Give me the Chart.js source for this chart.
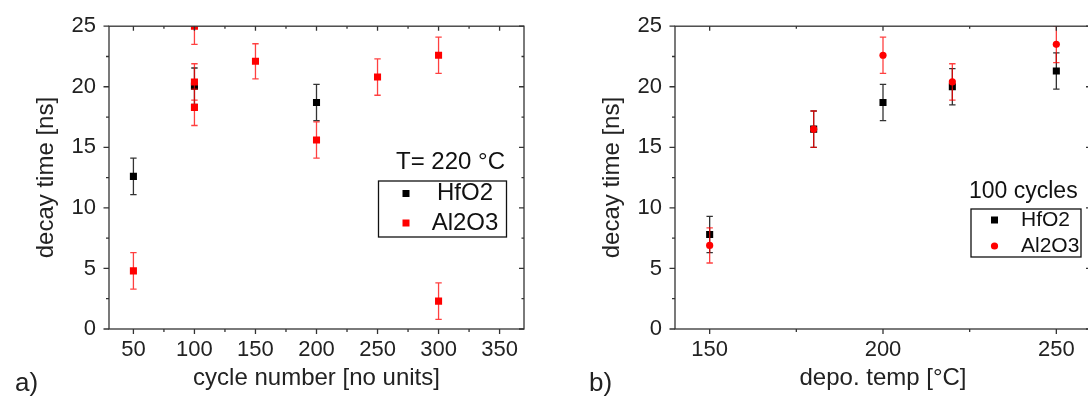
<!DOCTYPE html>
<html>
<head>
<meta charset="utf-8">
<script src="https://cdn.jsdelivr.net/npm/chart.js@4.4.1/dist/chart.umd.min.js"></script>
<style>
  html, body { margin: 0; padding: 0; background: #fff; overflow: hidden; }
  body { width: 1088px; height: 399px; position: relative; font-family: 'Liberation Sans', Arial, sans-serif; }
  .panel { position: absolute; top: 0; height: 399px; }
  #panel-a { left: 0; width: 544px; }
  #panel-b { left: 544px; width: 560px; }
  .tag { position: absolute; font-size: 26px; color: #222; line-height: 30px; }
</style>
</head>
<body>
<div class="panel" id="panel-a"><canvas id="chart-a" width="544" height="399"></canvas></div>
<div class="panel" id="panel-b"><canvas id="chart-b" width="560" height="399"></canvas></div>
<div class="tag" style="left:15px; top:367px">a)</div>
<div class="tag" style="left:589px; top:367px">b)</div>
<script>
// a) decay time vs cycle number, T = 220 °C
const cyclesHfO2 = [50, 100, 200];
const decayHfO2A = [12.6, 20.05, 18.7];
const errHfO2A = [1.5, 1.5, 1.5];
const cyclesAl2O3 = [50, 100, 100, 100, 150, 200, 250, 300, 300];
const decayAl2O3A = [4.8, 25.0, 20.4, 18.3, 22.1, 15.6, 20.8, 22.6, 2.3];
const errAl2O3A = [1.5, 1.5, 1.5, 1.5, 1.45, 1.5, 1.5, 1.5, 1.5];
const cycleTicks = [50, 100, 150, 200, 250, 300, 350];

// b) decay time vs deposition temperature, 100 cycles
const tempHfO2 = [150, 180, 200, 220, 250];
const decayHfO2B = [7.8, 16.5, 18.7, 20.0, 21.3];
const errHfO2B = [1.5, 1.5, 1.5, 1.5, 1.5];
const tempAl2O3 = [150, 180, 200, 220, 250];
const decayAl2O3B = [6.9, 16.5, 22.6, 20.4, 23.5];
const errAl2O3B = [1.45, 1.5, 1.5, 1.5, 1.5];
const tempTicks = [150, 200, 250];

const decayTicks = [0, 5, 10, 15, 20, 25];

const FONT = "'Liberation Sans', Arial, sans-serif";
Chart.defaults.font.family = FONT;
Chart.defaults.color = '#222';

const pts = (xs, ys) => xs.map((x, i) => ({x: x, y: ys[i]}));

// majors plus the midpoints between them (minor ticks)
const withMinors = majors => scale => {
    const minors = majors.slice(1).map((v, i) => (v + majors[i]) / 2);
    scale.ticks = majors.concat(minors).sort((a, b) => a - b).map(v => ({value: v}));
};
const majorLabel = majors => v => majors.includes(v) ? String(v) : '';

// vertical error bars, drawn just before each dataset's markers
const errorBars = {
    id: 'errorBars',
    beforeDatasetDraw(chart, args) {
        const ds = chart.data.datasets[args.index];
        if (!ds.errors) return;
        const meta = chart.getDatasetMeta(args.index);
        const ay = chart.scales.y, a = chart.chartArea, ctx = chart.ctx;
        ctx.save();
        ctx.beginPath();
        ctx.rect(a.left, a.top, a.right - a.left, a.bottom - a.top);
        ctx.clip();
        ctx.strokeStyle = ds.errorColor;
        ctx.lineWidth = 1.3;
        ctx.beginPath();
        meta.data.forEach((pt, i) => {
            const v = ds.data[i].y, e = ds.errors[i];
            const top = ay.getPixelForValue(v + e), bot = ay.getPixelForValue(v - e);
            ctx.moveTo(pt.x, top); ctx.lineTo(pt.x, bot);
            ctx.moveTo(pt.x - 3.2, top); ctx.lineTo(pt.x + 3.2, top);
            ctx.moveTo(pt.x - 3.2, bot); ctx.lineTo(pt.x + 3.2, bot);
        });
        ctx.stroke();
        ctx.restore();
    }
};

// box frame with outward ticks left/bottom and inward ticks top/right
const frame = {
    id: 'frame',
    afterDatasetsDraw(chart) {
        const ctx = chart.ctx, a = chart.chartArea;
        const ax = chart.scales.x, ay = chart.scales.y;
        ctx.save();
        ctx.strokeStyle = '#333';
        ctx.lineWidth = 1.3;
        ctx.strokeRect(a.left, a.top, a.right - a.left, a.bottom - a.top);
        ctx.beginPath();
        ax.ticks.forEach(t => {
            const px = ax.getPixelForValue(t.value);
            const major = t.label !== '';
            ctx.moveTo(px, a.bottom); ctx.lineTo(px, a.bottom + (major ? 5 : 3));
            ctx.moveTo(px, a.top); ctx.lineTo(px, a.top + (major ? 4.5 : 2.5));
        });
        ay.ticks.forEach(t => {
            const py = ay.getPixelForValue(t.value);
            const major = t.label !== '';
            ctx.moveTo(a.left, py); ctx.lineTo(a.left - (major ? 5.5 : 3), py);
            ctx.moveTo(a.right, py); ctx.lineTo(a.right - (major ? 5 : 2.5), py);
        });
        ctx.stroke();
        ctx.restore();
    }
};

// Origin-style legend: title above a framed list of markers
const boxLegend = {
    id: 'boxLegend',
    afterDraw(chart, args, opts) {
        const ctx = chart.ctx;
        ctx.save();
        ctx.textBaseline = 'middle';
        ctx.fillStyle = '#111';
        ctx.font = opts.titleFont;
        ctx.textAlign = 'left';
        ctx.fillText(opts.title, opts.titleX, opts.titleY);
        ctx.strokeStyle = '#111';
        ctx.lineWidth = 1.3;
        ctx.strokeRect(opts.box[0], opts.box[1], opts.box[2], opts.box[3]);
        chart.data.datasets.forEach((ds, i) => {
            const y = opts.rowY[i];
            ctx.fillStyle = ds.backgroundColor;
            if (ds.pointStyle === 'circle') {
                ctx.beginPath();
                ctx.arc(opts.markerX, y, 3.6, 0, Math.PI * 2);
                ctx.fill();
            } else {
                ctx.fillRect(opts.markerX - 3.5, y - 3.5, 7, 7);
            }
            ctx.fillStyle = '#111';
            ctx.font = opts.font;
            ctx.textAlign = opts.textAlign;
            ctx.fillText(ds.label, opts.textX, y);
        });
        ctx.restore();
    }
};

function axisX(min, max, majors, title, height) {
    return {
        type: 'linear', min: min, max: max,
        afterBuildTicks: withMinors(majors),
        afterFit: s => { s.height = height; },
        grid: {display: false, drawTicks: false},
        border: {display: false},
        ticks: {callback: majorLabel(majors), padding: 8, font: {size: 22}, color: '#222', maxRotation: 0, autoSkip: false},
        title: {display: true, text: title, font: {size: 24}, color: '#222', padding: {top: 0, bottom: 6}}
    };
}

function axisY(width, titlePad) {
    return {
        type: 'linear', min: 0, max: 25,
        afterBuildTicks: withMinors(decayTicks),
        afterFit: s => { s.width = width; },
        grid: {display: false, drawTicks: false},
        border: {display: false},
        ticks: {callback: majorLabel(decayTicks), padding: 13, font: {size: 22}, color: '#222', autoSkip: false},
        title: {display: true, text: 'decay time [ns]', font: {size: 24}, color: '#222', padding: {top: titlePad, bottom: 0}}
    };
}

function series(label, xs, ys, errs, color, errColor, style, radius, order) {
    return {
        label: label, data: pts(xs, ys), errors: errs, errorColor: errColor,
        backgroundColor: color, borderWidth: 0, pointStyle: style,
        pointRadius: radius, pointHoverRadius: radius, order: order, clip: 0
    };
}

new Chart(document.getElementById('chart-a'), {
    type: 'scatter',
    data: {
        datasets: [
            series('HfO2', cyclesHfO2, decayHfO2A, errHfO2A, '#000', '#333', 'rect', 5, 1),
            series('Al2O3', cyclesAl2O3, decayAl2O3A, errAl2O3A, '#f00', 'rgba(255,0,0,0.75)', 'rect', 5, 0)
        ]
    },
    options: {
        responsive: false,
        animation: false,
        layout: {padding: {top: 20, right: 20, left: 0, bottom: 0}},
        plugins: {
            legend: {display: false},
            tooltip: {enabled: false},
            boxLegend: {
                title: 'T= 220 °C', titleFont: '24px ' + FONT, titleX: 396, titleY: 162,
                box: [378.5, 181, 128, 56], markerX: 406, rowY: [193.5, 223],
                font: '24px ' + FONT, textX: 465, textAlign: 'center'
            }
        },
        scales: {
            x: axisX(30, 370, cycleTicks, 'cycle number [no units]', 70),
            y: axisY(109, 32)
        }
    },
    plugins: [errorBars, frame, boxLegend]
});

new Chart(document.getElementById('chart-b'), {
    type: 'scatter',
    data: {
        datasets: [
            series('HfO2', tempHfO2, decayHfO2B, errHfO2B, '#000', '#333', 'rect', 5, 1),
            series('Al2O3', tempAl2O3, decayAl2O3B, errAl2O3B, '#f00', 'rgba(255,0,0,0.75)', 'circle', 3.6, 0)
        ]
    },
    options: {
        responsive: false,
        animation: false,
        layout: {padding: {top: 20, right: 13, left: 0, bottom: 0}},
        plugins: {
            legend: {display: false},
            tooltip: {enabled: false},
            boxLegend: {
                title: '100 cycles', titleFont: '23px ' + FONT, titleX: 425, titleY: 192,
                box: [427, 209, 110, 48], markerX: 450.5, rowY: [220, 246],
                font: '21px ' + FONT, textX: 477, textAlign: 'left'
            }
        },
        scales: {
            x: axisX(140, 260, tempTicks, 'depo. temp [°C]', 70),
            y: axisY(131, 54)
        }
    },
    plugins: [errorBars, frame, boxLegend]
});
</script>
</body>
</html>
